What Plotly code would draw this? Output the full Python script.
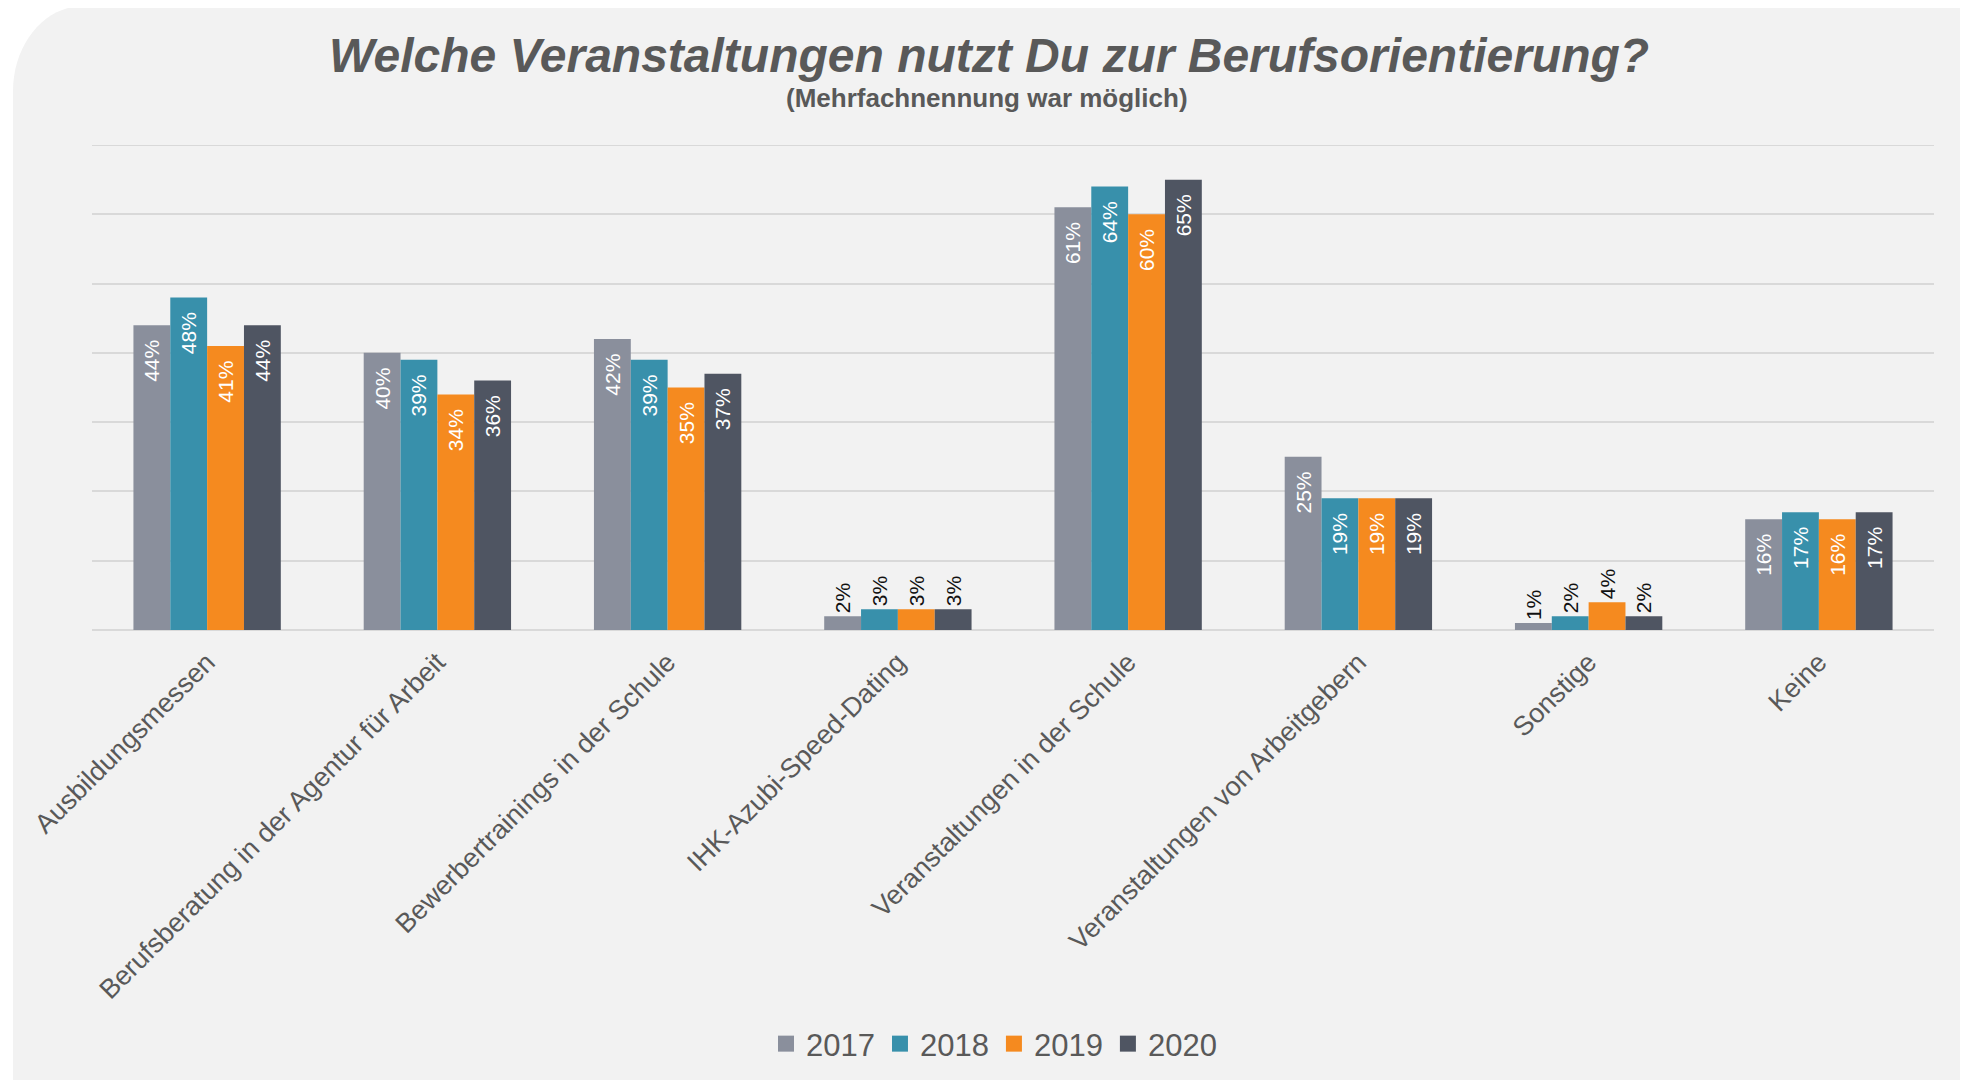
import plotly.graph_objects as go

# Kategorien und Werte (in Prozent)
categories = [
    "Ausbildungsmessen",
    "Berufsberatung in der Agentur für Arbeit",
    "Bewerbertrainings in der Schule",
    "IHK-Azubi-Speed-Dating",
    "Veranstaltungen in der Schule",
    "Veranstaltungen von Arbeitgebern",
    "Sonstige",
    "Keine",
]
years = ["2017", "2018", "2019", "2020"]
values_2017 = [44, 40, 42, 2, 61, 25, 1, 16]
values_2018 = [48, 39, 39, 3, 64, 19, 2, 17]
values_2019 = [41, 34, 35, 3, 60, 19, 4, 16]
values_2020 = [44, 36, 37, 3, 65, 19, 2, 17]
colors = ["#8a8f9c", "#3890ab", "#f58a1f", "#4f5562"]

W, H = 1968, 1080
OFF = 8  # Seitenrand des Browsers ausgleichen
ML, MR, MT, MB = 84, 42, 137, 458
PW, PH = W - ML - MR, H - MT - MB
FONT = "Liberation Sans, Arial, sans-serif"


def px_x(x):
    return (x - OFF - ML) / PW


def px_y(y):
    return (H - MB - (y - OFF)) / PH


fig = go.Figure()
for year, vals, col in zip(years, [values_2017, values_2018, values_2019, values_2020], colors):
    inside = [v >= 10 for v in vals]
    fig.add_trace(go.Bar(
        x=categories, y=vals, name=year, showlegend=False,
        marker=dict(color=col, line=dict(width=0)),
        text=[f"{v}%\u00a0\u00a0" if i else f"{v}%" for v, i in zip(vals, inside)],
        textposition=["inside" if i else "outside" for i in inside],
        insidetextanchor="end",
        textangle=-90,
        insidetextfont=dict(color="white", size=21, family=FONT),
        outsidetextfont=dict(color="#111111", size=21, family=FONT),
        cliponaxis=False,
    ))

# Legendeneinträge mit größeren Quadraten
for year, col in zip(years, colors):
    fig.add_trace(go.Scatter(x=[None], y=[None], mode="markers", name=year,
                             marker=dict(symbol="square", size=16, color=col)))

# hellgrauer Hintergrund mit abgerundeter Ecke oben links
x0, x1, y0, y1 = px_x(13), px_x(1964), px_y(6), px_y(1095)
rx, ry = 70 / PW, 85 / PH
path = (f"M {x0},{y1} L {x0},{y0 - ry} C {x0},{y0 - ry * 0.45} {x0 + rx * 0.45},{y0} {x0 + rx},{y0} "
        f"L {x1},{y0} L {x1},{y1} Z")
fig.add_shape(type="path", path=path, xref="paper", yref="paper",
              fillcolor="#f2f2f2", line=dict(width=0), layer="below")
# oberste Gitterlinie
fig.add_shape(type="line", xref="paper", x0=0, x1=1, yref="y", y0=70, y1=70,
              line=dict(color="#d9d9d9", width=2), layer="below")

fig.add_annotation(text="<b><i>Welche Veranstaltungen nutzt Du zur Berufsorientierung?</i></b>",
                   x=px_x(989), y=px_y(55), xref="paper", yref="paper", showarrow=False,
                   xanchor="center", yanchor="middle",
                   font=dict(family=FONT, size=48, color="#595959"))
fig.add_annotation(text="<b>(Mehrfachnennung war möglich)</b>",
                   x=px_x(987), y=px_y(98), xref="paper", yref="paper", showarrow=False,
                   xanchor="center", yanchor="middle",
                   font=dict(family=FONT, size=26, color="#595959"))

fig.update_layout(
    width=W, height=H,
    margin=dict(l=ML, r=MR, t=MT, b=MB),
    paper_bgcolor="white",
    plot_bgcolor="rgba(0,0,0,0)",
    barmode="group",
    bargap=0.36,
    bargroupgap=0,
    font=dict(family=FONT, color="#595959"),
    showlegend=True,
    legend=dict(orientation="h", x=px_x(994), xanchor="center", y=px_y(1044), yanchor="middle",
                font=dict(size=31, color="#595959"), bgcolor="rgba(0,0,0,0)",
                itemwidth=30, traceorder="normal"),
)
fig.update_yaxes(range=[0, 70], dtick=10, showticklabels=False, showgrid=True,
                 gridcolor="#d9d9d9", gridwidth=2, zeroline=True, zerolinecolor="#d9d9d9",
                 zerolinewidth=2, fixedrange=True)
fig.update_xaxes(tickangle=-45, tickfont=dict(size=27, color="#595959"), showline=False,
                 ticks="", ticklabelstandoff=10, fixedrange=True)

fig.write_html("out.html")
